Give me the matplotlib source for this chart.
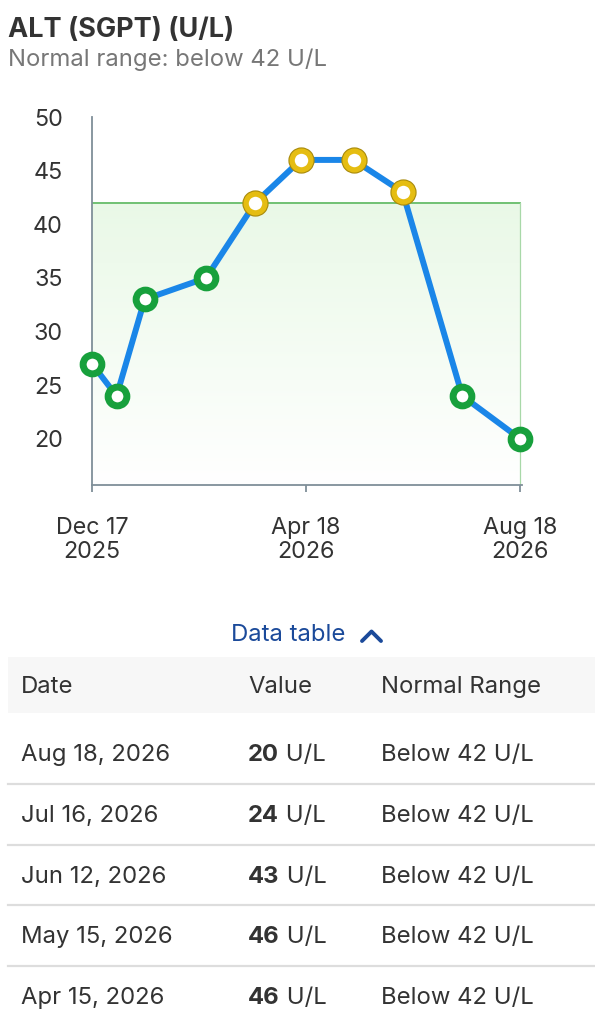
import matplotlib
matplotlib.use("Agg")
import matplotlib.pyplot as plt
import matplotlib.dates as mdates
import numpy as np
from datetime import date
from matplotlib.lines import Line2D
from matplotlib.patches import Rectangle

plt.rcParams['font.family'] = ['Inter', 'DejaVu Sans']

# data
dates = [date(2025, 12, 17), date(2025, 12, 31), date(2026, 1, 16), date(2026, 2, 20),
         date(2026, 3, 20), date(2026, 4, 15), date(2026, 5, 15), date(2026, 6, 12),
         date(2026, 7, 16), date(2026, 8, 18)]
values = [27, 24, 33, 35, 42, 46, 46, 43, 24, 20]
normal_max = 42
tick_dates = [date(2025, 12, 17), date(2026, 4, 18), date(2026, 8, 18)]
tick_labels = ['Dec 17\n2025', 'Apr 18\n2026', 'Aug 18\n2026']
y_ticks = [20, 25, 30, 35, 40, 45, 50]
title = 'ALT (SGPT) (U/L)'
subtitle = 'Normal range: below 42 U/L'
unit = 'U/L'
range_text = 'Below 42 U/L'
n_rows = 5

W, H = 595, 1023
fig = plt.figure(figsize=(W / 100, H / 100), dpi=100)


def fx(x):
    return x / W


def fy(y):
    return 1 - y / H


text_col = '#333333'
spine_col = '#7f8f99'
fs = 17.2

ax = fig.add_axes([fx(92), fy(485), fx(522) - fx(92), fy(117) - fy(485)])
xd = mdates.date2num(dates)
ymin = 15.7
ax.set_xlim(xd[0], xd[-1] + 1)
ax.set_ylim(ymin, 50)

# normal range band with gradient
grad = np.linspace(0, 1, 256).reshape(-1, 1)
top = np.array([0.915, 0.975, 0.905])
bot = np.array([1.0, 1.0, 1.0])
img = top * (1 - grad[..., None]) + bot * grad[..., None]
img = img.reshape(256, 1, 3)
ax.imshow(img, extent=[xd[0], xd[-1], ymin, normal_max], aspect='auto', zorder=0,
          interpolation='bilinear')
ax.plot([xd[0], xd[-1]], [normal_max, normal_max], color='#5cb860', lw=1.2, zorder=1)
ax.plot([xd[-1], xd[-1]], [ymin, normal_max], color='#a8d8a8', lw=0.9, zorder=1)

ax.plot(xd, values, color='#1a86e8', lw=4.3, zorder=3, solid_capstyle='round')
for x, v in zip(xd, values):
    if v >= normal_max:
        ax.plot(x, v, 'o', ms=13.5, mfc='white', mec='#a88a0c', mew=5.4, zorder=4, clip_on=False)
        ax.plot(x, v, 'o', ms=13.5, mfc='white', mec='#e5bd12', mew=3.8, zorder=5, clip_on=False)
    else:
        ax.plot(x, v, 'o', ms=13.5, mfc='white', mec='#17a03c', mew=5.0, zorder=4, clip_on=False)

for s in ['top', 'right']:
    ax.spines[s].set_visible(False)
for s in ['left', 'bottom']:
    ax.spines[s].set_color(spine_col)
    ax.spines[s].set_linewidth(1.3)
ax.set_facecolor('none')

ax.set_xticks(mdates.date2num(tick_dates))
ax.set_xticklabels(tick_labels, fontsize=16.8, color=text_col, linespacing=1.15)
ax.set_yticks(y_ticks)
ax.set_yticklabels([str(t) for t in y_ticks], fontsize=16.8, color=text_col)
ax.tick_params(axis='x', length=5, width=1.3, color=spine_col, pad=18)
ax.tick_params(axis='y', length=0, pad=21)

# header texts
fig.text(fx(8), fy(37), title, fontsize=19.5, fontweight='bold', color=text_col, va='baseline')
fig.text(fx(8), fy(66), subtitle, fontsize=17.2, color='#777777', va='baseline')

# data table toggle
link_col = '#1b4a9a'
fig.text(fx(231), fy(635), 'Data table', fontsize=fs, color=link_col, va='center', ha='left')
fig.add_artist(Line2D([fx(362), fx(371.5), fx(381)], [fy(641), fy(631.5), fy(641)],
                      color=link_col, lw=2.8, solid_capstyle='round', solid_joinstyle='round'))

# table header
fig.add_artist(Rectangle((fx(8), fy(713)), fx(595) - fx(8), fy(657) - fy(713),
                         facecolor='#f7f7f7', edgecolor='none'))
col_x = [21, 248, 381]
for cx, lab in zip(col_x, ['Date', 'Value', 'Normal Range']):
    fig.text(fx(cx), fy(687), lab, fontsize=fs, color=text_col, va='center')

row_y = [753, 814, 875, 935, 996]
for i in range(n_rows):
    idx = len(dates) - 1 - i
    d = dates[idx]
    ry = row_y[i] + 2
    fig.text(fx(col_x[0]), fy(ry), d.strftime('%b ') + str(d.day) + d.strftime(', %Y'),
             fontsize=fs, color=text_col, va='center')
    t = fig.text(fx(col_x[1]), fy(ry), str(values[idx]), fontsize=fs, fontweight='bold',
                 color=text_col, va='center')
    fig.add_artist(matplotlib.text.Annotation(' ' + unit, xy=(1, 0), xycoords=t,
                                              fontsize=fs, color=text_col, va='bottom'))
    fig.text(fx(col_x[2]), fy(ry), range_text, fontsize=fs, color=text_col, va='center')
    if i < n_rows - 1:
        sy = (row_y[i] + row_y[i + 1]) / 2
        fig.add_artist(Line2D([fx(8), fx(595)], [fy(sy), fy(sy)], color='#dddddd', lw=1.6))

fig.savefig('out.png', dpi=100)
